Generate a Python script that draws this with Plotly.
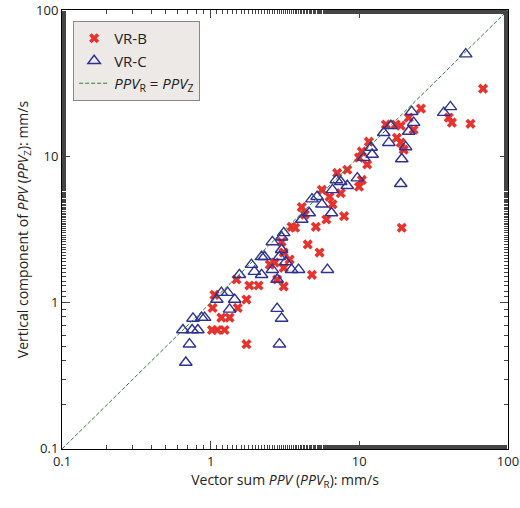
import plotly.graph_objects as go

# VR-B (red crosses)
vrb_x = [26, 40, 42, 56, 68, 15.1, 17.6, 19, 21.5, 23.2, 17.9, 19, 19.9, 11.6, 10.4, 9.95,
         11.3, 8.3, 7.1, 10.4, 9.95, 7.5, 5.6, 6.3, 6.6, 7.9, 6.0, 5.1, 4.3, 4.1, 3.5, 3.7,
         19.3, 4.5, 5.4, 3.0, 3.1, 3.4, 2.5, 2.7, 3.1, 2.8, 3.1, 1.82, 2.1, 1.49, 1.74, 1.52,
         1.06, 1.03, 1.18, 1.34, 1.02, 1.11, 1.24, 1.74, 4.8]
vrb_y = [21.2, 18.4, 17, 16.7, 29, 16.5, 16.5, 16.2, 18.4, 15.2, 13.4, 12.4, 11.1, 12.6, 10.8, 9.8,
         8.8, 8.1, 7.7, 6.9, 6.2, 5.6, 5.9, 5.3, 4.7, 3.9, 3.7, 3.3, 4.0, 4.5, 3.3, 3.25,
         3.25, 2.5, 2.2, 2.6, 2.2, 1.97, 1.82, 1.88, 1.73, 1.44, 1.29, 1.31, 1.31, 1.44, 1.05, 0.92,
         1.13, 0.92, 0.79, 0.79, 0.65, 0.65, 0.65, 0.52, 1.55]

# VR-C (blue triangles)
vrc_x = [52, 41, 37, 22.5, 23.2, 16.3, 14.6, 21.5, 15.8, 20.5, 12, 12.2, 10.7, 19.3, 19, 9.7,
         8.3, 7.5, 7.0, 6.6, 5.2, 4.8, 5.6, 4.6, 6.5, 4.1, 3.1, 3.0, 2.6, 3.0, 2.3, 2.2, 2.9,
         3.2, 1.88, 1.97, 2.6, 2.2, 3.5, 3.9, 6.1, 1.56, 2.8, 1.3, 1.18, 1.1, 1.45, 1.34, 2.8,
         3.0, 0.91, 0.87, 0.76, 0.65, 0.75, 0.82, 0.72, 2.9, 0.68]
vrc_y = [50, 21.8, 19.9, 20.2, 17, 16.2, 14.5, 14.8, 12.4, 11.6, 11.5, 10.3, 9.8, 9.6, 6.5, 7.1,
         6.3, 6.7, 6.9, 5.9, 5.3, 5.1, 4.7, 4.1, 4.1, 3.7, 3.0, 2.8, 2.6, 2.3, 2.06, 2.06, 2.06,
         1.9, 1.82, 1.63, 1.68, 1.55, 1.68, 1.68, 1.68, 1.55, 1.44, 1.17, 1.17, 1.05, 1.05, 0.9, 0.91,
         0.78, 0.79, 0.79, 0.78, 0.65, 0.65, 0.65, 0.52, 0.52, 0.39]

line_xy = [0.1, 100]
tick_vals = [0.1, 1, 10, 100]
tick_text = ["0.1", "1", "10", "100"]

fig = go.Figure()
fig.add_trace(go.Scatter(x=vrb_x, y=vrb_y, mode="markers", name="VR-B",
                         marker=dict(symbol="x", size=9, color="#e8322d")))
fig.add_trace(go.Scatter(x=vrc_x, y=vrc_y, mode="markers", name="VR-C",
                         marker=dict(symbol="triangle-up-open", size=11, color="#2e3192",
                                     line=dict(width=1.4))))
fig.add_trace(go.Scatter(x=line_xy, y=line_xy, mode="lines",
                         name="<i>PPV</i><sub>R</sub> = <i>PPV</i><sub>Z</sub>",
                         line=dict(color="#2f7d3a", width=1, dash="4px,2px")))

axis = dict(type="log", range=[-1.0005, 2.0005], tickvals=tick_vals, ticktext=tick_text,
            ticks="inside", ticklen=8, mirror="ticks", showline=True, linecolor="black",
            linewidth=1, showgrid=False, zeroline=False, automargin=False,
            ticklabeloverflow="allow",
            minor=dict(ticks="inside", ticklen=4, showgrid=False),
            tickfont=dict(size=13))
fig.update_xaxes(**axis, title=dict(text="Vector sum <i>PPV</i> (<i>PPV</i><sub>R</sub>): mm/s",
                                    standoff=4, font=dict(size=14)))
fig.update_yaxes(**axis, title=dict(text="Vertical component of <i>PPV</i> (<i>PPV</i><sub>Z</sub>): mm/s",
                                    standoff=4, font=dict(size=14)))

fig.update_layout(
    width=520, height=508,
    margin=dict(l=62, r=12, t=10, b=59),
    plot_bgcolor="white", paper_bgcolor="white",
    font=dict(family="Open Sans", size=14, color="#222"),
    legend=dict(x=0.025, y=0.975, xanchor="left", yanchor="top",
                bgcolor="#ede9e6", bordercolor="#888", borderwidth=1,
                font=dict(size=15), tracegroupgap=0),
)

fig.write_html("out.html", config={"displayModeBar": False},
               post_script="document.body.style.margin='0';")
